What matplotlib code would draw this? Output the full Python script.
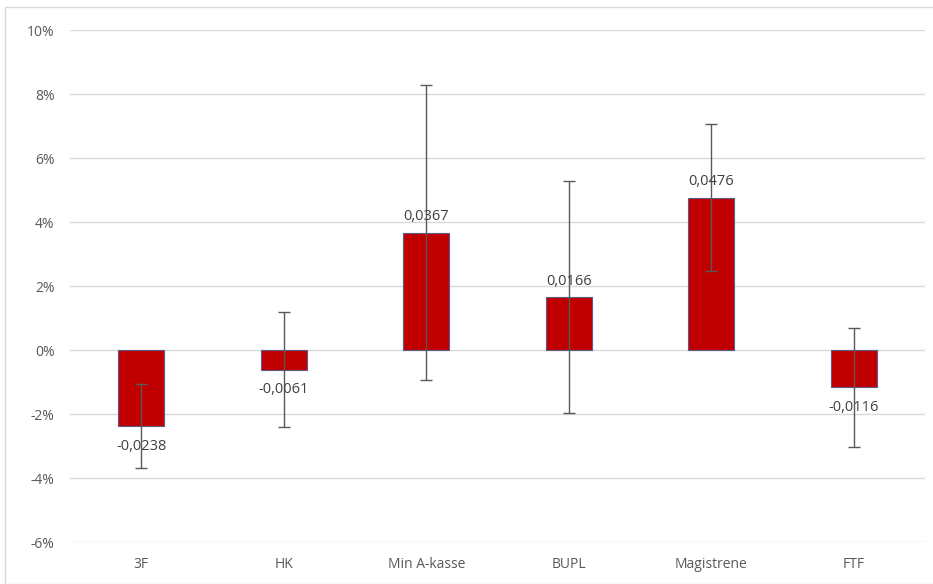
import matplotlib.pyplot as plt
from matplotlib.patches import Rectangle
from matplotlib.ticker import FuncFormatter

# data
kasser = ['3F', 'HK', 'Min A-kasse', 'BUPL', 'Magistrene', 'FTF']
effekt = [-0.0238, -0.0061, 0.0367, 0.0166, 0.0476, -0.0116]
fejl = [0.0131, 0.0180, 0.0460, 0.0363, 0.0229, 0.0186]
labels = ['-0,0238', '-0,0061', '0,0367', '0,0166', '0,0476', '-0,0116']

plt.rcParams['font.family'] = ['Open Sans', 'DejaVu Sans']
grå = '#595959'

fig = plt.figure(figsize=(9.33, 5.84), dpi=100)
ax = fig.add_axes([70 / 933, 1 - 542 / 584, 855 / 933, 512 / 584])

x = range(len(kasser))
ax.bar(x, effekt, width=0.32, color='#C00000', edgecolor='#5b5b86', linewidth=0.8, zorder=2)
ax.errorbar(x, effekt, yerr=fejl, fmt='none', ecolor=grå, elinewidth=1, capsize=4.5,
            capthick=1, zorder=3)

for i, (v, t) in enumerate(zip(effekt, labels)):
    if v >= 0:
        ax.annotate(t, (i, v), xytext=(0, 6), textcoords='offset points',
                    ha='center', va='bottom', fontsize=10.5, color='#404040', zorder=4)
    else:
        ax.annotate(t, (i, v), xytext=(0, -9), textcoords='offset points',
                    ha='center', va='top', fontsize=10.5, color='#404040', zorder=4)

ax.set_xlim(-0.5, len(kasser) - 0.5)
ax.set_ylim(-0.06, 0.10)
ax.set_yticks([-0.06, -0.04, -0.02, 0, 0.02, 0.04, 0.06, 0.08, 0.10])
ax.yaxis.set_major_formatter(FuncFormatter(lambda v, p: f'{v * 100:.0f}%'))
ax.set_xticks(list(x))
ax.set_xticklabels(kasser)
ax.tick_params(axis='both', length=0, labelsize=10, labelcolor=grå)
ax.tick_params(axis='x', pad=11)
ax.tick_params(axis='y', pad=11)
ax.grid(axis='y', color='#d9d9d9', linewidth=1, zorder=0)
for s in ax.spines.values():
    s.set_visible(False)

# chart area border
fig.patches.append(Rectangle((5 / 933, 0), 1, 1 - 7 / 584, transform=fig.transFigure,
                             fill=False, edgecolor='#d9d9d9', linewidth=1))

fig.savefig('out.png', dpi=100)
